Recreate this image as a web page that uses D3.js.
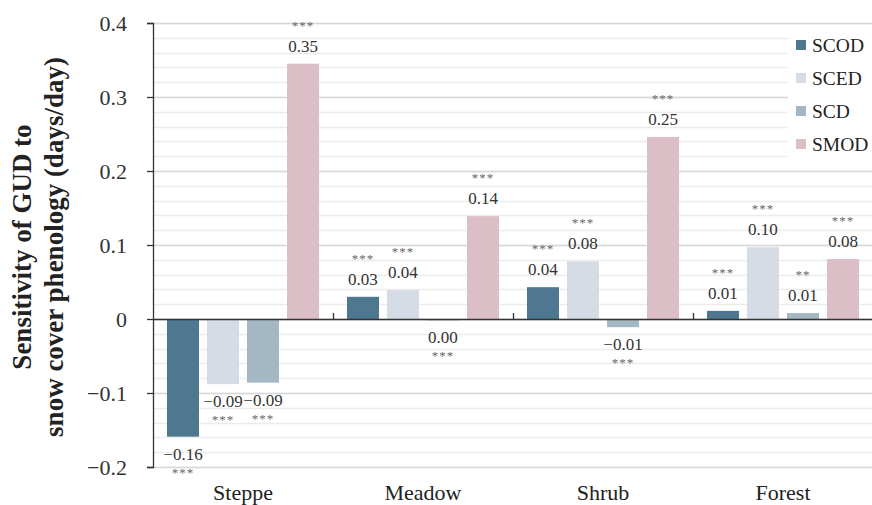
<!DOCTYPE html>
<html>
<head>
<meta charset="utf-8">
<script src="https://cdn.jsdelivr.net/npm/d3@7"></script>
<style>
  body { margin: 0; background: #fff; }
  text { font-family: "Liberation Serif", "Times New Roman", serif; }
</style>
</head>
<body>
<div id="chart"></div>
<script>
// Data
var categories = ["Steppe", "Meadow", "Shrub", "Forest"];
var seriesNames = ["SCOD", "SCED", "SCD", "SMOD"];
var scodValues = [-0.159, 0.030, 0.043, 0.011];
var scedValues = [-0.088, 0.039, 0.078, 0.097];
var scdValues  = [-0.086, -0.002, -0.011, 0.008];
var smodValues = [0.345, 0.139, 0.246, 0.081];
var valueLabels = [
  ["\u22120.16", "\u22120.09", "\u22120.09", "0.35"],
  ["0.03", "0.04", "0.00", "0.14"],
  ["0.04", "0.08", "\u22120.01", "0.25"],
  ["0.01", "0.10", "0.01", "0.08"]
];
var stars = [
  ["***", "***", "***", "***"],
  ["***", "***", "***", "***"],
  ["***", "***", "***", "***"],
  ["***", "***", "**", "***"]
];
var yTicks = [-0.2, -0.1, 0, 0.1, 0.2, 0.3, 0.4];
var yTickLabels = ["\u22120.2", "\u22120.1", "0", "0.1", "0.2", "0.3", "0.4"];
var colors = ["#4d7890", "#d5dce6", "#a4b8c3", "#dcbec7"];

var allValues = [scodValues, scedValues, scdValues, smodValues];

var W = 872, H = 505;
var margin = { top: 23, right: -1, bottom: 38, left: 153 };
var width = W - margin.left - margin.right,
    height = H - margin.top - margin.bottom;

var svg = d3.select("#chart").append("svg")
    .attr("width", W).attr("height", H);

var g = svg.append("g")
    .attr("transform", "translate(" + margin.left + "," + margin.top + ")");

var y = d3.scaleLinear().domain([-0.2, 0.4]).range([height, 0]);
var x0 = d3.scaleBand().domain(categories).range([0, width]).paddingInner(0.111).paddingOuter(0.0555);
var x1 = d3.scaleBand().domain(seriesNames).range([0, x0.bandwidth()]).paddingInner(0.2).paddingOuter(0.1);

// minor and major gridlines
var minor = d3.range(-0.2, 0.4001, 0.02);
g.selectAll(".minor").data(minor).enter().append("line")
    .attr("x1", 0).attr("x2", width)
    .attr("y1", function (d) { return Math.round(y(d)) + 0.5; })
    .attr("y2", function (d) { return Math.round(y(d)) + 0.5; })
    .attr("stroke", "#ececec").attr("stroke-width", 1.3);
g.selectAll(".major").data(yTicks).enter().append("line")
    .attr("x1", 0).attr("x2", width)
    .attr("y1", function (d) { return Math.round(y(d)) + 0.5; })
    .attr("y2", function (d) { return Math.round(y(d)) + 0.5; })
    .attr("stroke", "#d8d8d8").attr("stroke-width", 1.4);

// bars
var groups = g.selectAll(".grp").data(categories).enter().append("g")
    .attr("transform", function (d) { return "translate(" + x0(d) + ",0)"; });

groups.each(function (cat, ci) {
  var grp = d3.select(this);
  seriesNames.forEach(function (s, si) {
    var v = allValues[si][ci];
    var bx = x1(s), bw = x1.bandwidth();
    grp.append("rect")
      .attr("x", bx).attr("width", bw)
      .attr("y", y(Math.max(0, v)))
      .attr("height", Math.abs(y(v) - y(0)))
      .attr("fill", colors[si]);
    var cx = bx + bw / 2;
    // label + significance stars, above positive bars, below negative ones
    var ly = v >= 0 ? y(v) - 12 : y(v) + 23;
    var sy = v >= 0 ? y(v) - 34 : y(v) + 40;
    grp.append("text").attr("x", cx).attr("y", ly)
      .attr("text-anchor", "middle").attr("font-size", 17).attr("fill", "#333")
      .text(valueLabels[ci][si]);
    grp.append("text").attr("x", cx).attr("y", sy)
      .attr("text-anchor", "middle").attr("font-size", 13).attr("fill", "#666")
      .attr("letter-spacing", 1)
      .text(stars[ci][si]);
  });
});

// zero line with category ticks
g.append("line").attr("x1", 0).attr("x2", width)
    .attr("y1", y(0) + 0.5).attr("y2", y(0) + 0.5)
    .attr("stroke", "#333").attr("stroke-width", 1.3);
var bounds = [1, 2, 3].map(function (i) { return i * x0.step(); });
g.selectAll(".ctick").data(bounds).enter().append("line")
    .attr("x1", function (d) { return Math.round(d) + 0.5; })
    .attr("x2", function (d) { return Math.round(d) + 0.5; })
    .attr("y1", y(0)).attr("y2", y(0) - 6)
    .attr("stroke", "#333").attr("stroke-width", 1.3);

// y axis
var yAxis = d3.axisLeft(y).tickValues(yTicks).tickSize(6).tickPadding(20)
    .tickFormat(function (d, i) { return yTickLabels[i]; });
var ya = g.append("g").call(yAxis);
ya.select(".domain").attr("stroke", "#333").attr("stroke-width", 1.3);
ya.selectAll(".tick line").attr("stroke", "#333").attr("stroke-width", 1.3);
ya.selectAll(".tick text").attr("font-size", 22).attr("fill", "#333");

// category labels
g.selectAll(".clabel").data(categories).enter().append("text")
    .attr("x", function (d) { return x0(d) + x0.bandwidth() / 2; })
    .attr("y", height + 33)
    .attr("text-anchor", "middle").attr("font-size", 22).attr("fill", "#222")
    .text(function (d) { return d; });

// y axis title
var title = svg.append("text")
    .attr("transform", "translate(31," + (margin.top + height / 2 + 2) + ") rotate(-90)")
    .attr("text-anchor", "middle").attr("font-size", 27).attr("font-weight", "bold")
    .attr("fill", "#222");
title.append("tspan").attr("x", 0).attr("dy", 0).text("Sensitivity of GUD to");
title.append("tspan").attr("x", 0).attr("dy", 32).text("snow cover phenology (days/day)");

// legend
var legend = svg.append("g").attr("transform", "translate(788,29)");
legend.append("rect").attr("x", 0).attr("y", 0).attr("width", 84).attr("height", 134).attr("fill", "#fff");
seriesNames.forEach(function (s, i) {
  var ly = 16 + i * 33;
  legend.append("rect").attr("x", 8).attr("y", ly - 5).attr("width", 10).attr("height", 10).attr("fill", colors[i]);
  legend.append("text").attr("x", 24).attr("y", ly).attr("dy", "0.35em")
    .attr("font-size", 19.5).attr("fill", "#222").text(s);
});
</script>
</body>
</html>
